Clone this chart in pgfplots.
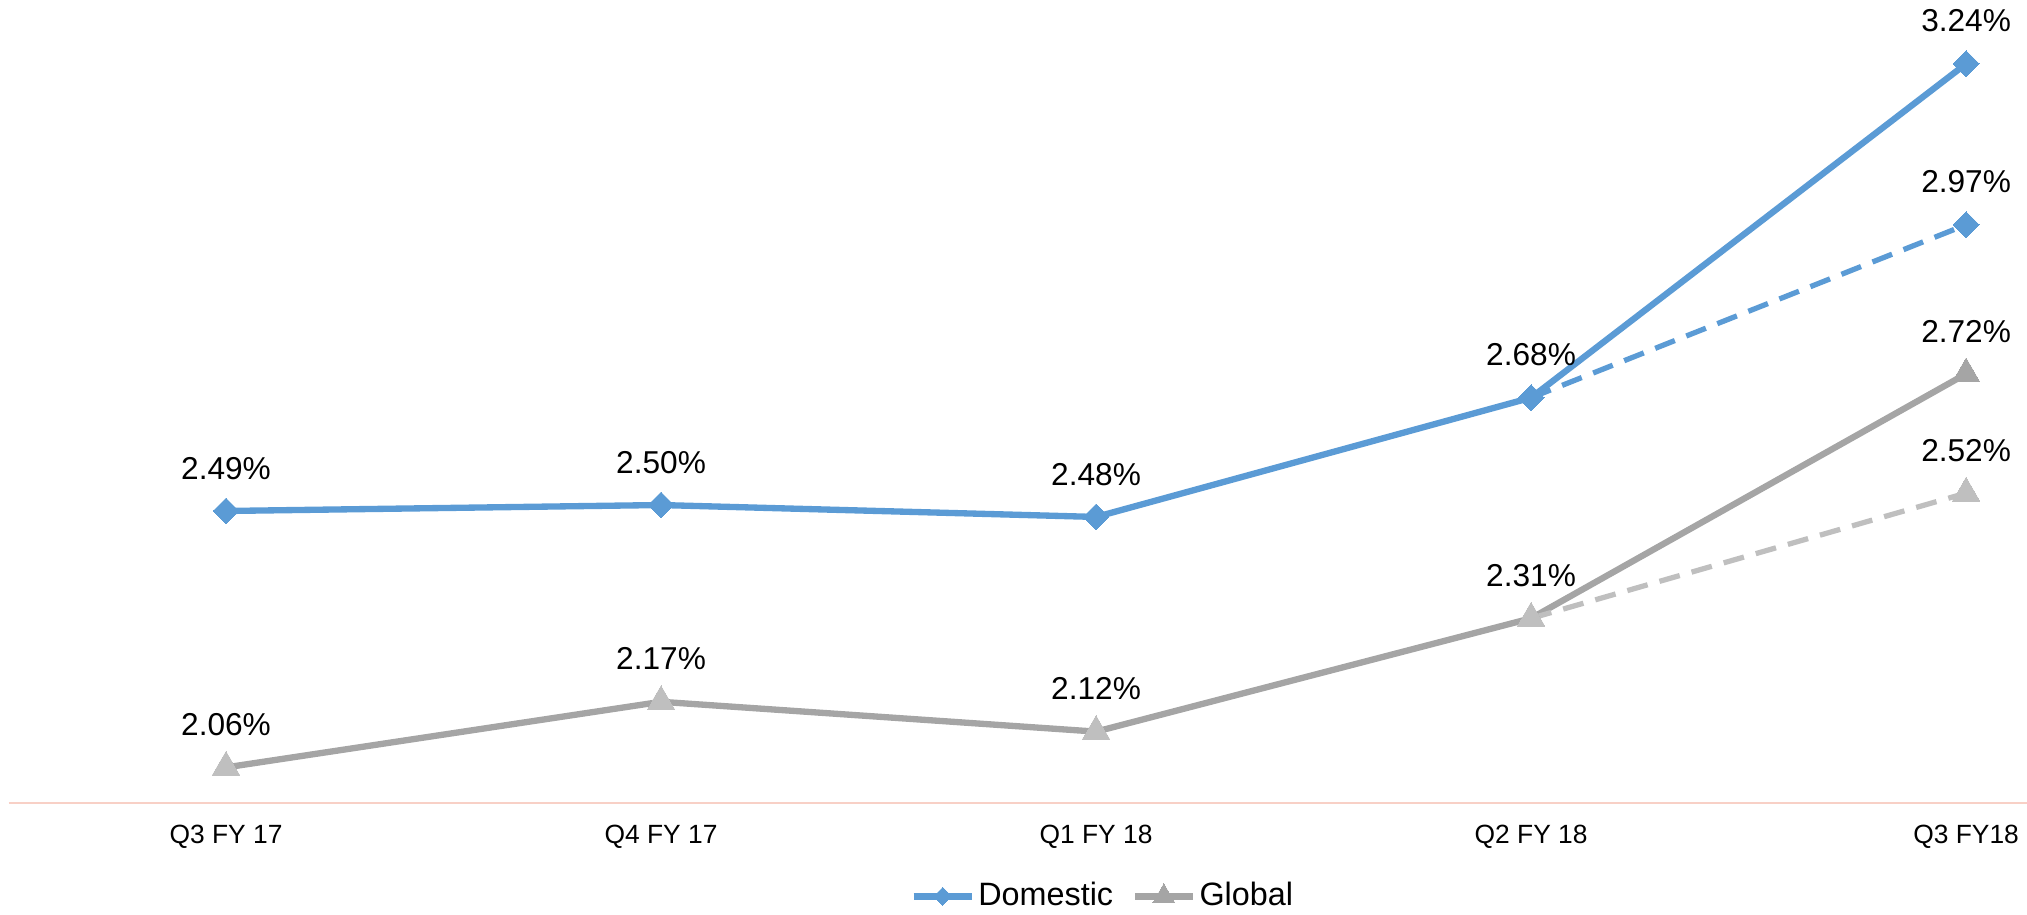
\documentclass[border=0pt]{standalone}
\usepackage{fontspec}
\setmainfont{Liberation Sans}
\usepackage{pgfplots}
\pgfplotsset{compat=1.18}
\usetikzlibrary{calc}
\definecolor{dom}{HTML}{5B9BD5}
\definecolor{glob}{HTML}{A5A5A5}
\definecolor{globlt}{HTML}{BFBFBF}
\definecolor{baseline}{HTML}{F8D0C6}

\begin{document}
\begin{tikzpicture}
\begin{axis}[
  name=ax,
  scale only axis,
  width=20.18cm, height=8.03cm,
  xmin=-0.5, xmax=4.14,
  ymin=2, ymax=3.347,
  clip=false,
  axis x line*=bottom,
  axis y line=none,
  x axis line style={draw=baseline, line width=0.6pt},
  xtick={0,1,2,3,4},
  xticklabels={Q3 FY 17, Q4 FY 17, Q1 FY 18, Q2 FY 18, Q3 FY18},
  major tick length=0pt,
  xticklabel style={font=\fontsize{7.5}{9}\selectfont, inner sep=0pt, anchor=north, yshift=-6pt},
  ytick=\empty,
  point meta=explicit symbolic,
  nodes near coords={\pgfplotspointmeta},
  nodes near coords style={font=\fontsize{9}{10}\selectfont, anchor=south, inner sep=0pt, yshift=9pt, text=black},
  legend style={draw=none, fill=none, at={(0.5425,-0.116)}, anchor=center,
    legend columns=2, font=\fontsize{9.2}{10}\selectfont,
    nodes={inner sep=1pt},
    /tikz/every even column/.append style={column sep=0.15cm}},
  legend image code/.code={\draw[mark repeat=2,mark phase=2,#1] plot coordinates {(0cm,0cm) (0.29cm,0cm) (0.58cm,0cm)};},
]
% Domestic, solid
\addplot[dom, line width=1.8pt, mark=square*, mark size=2.6pt,
  mark options={rotate=45, solid, fill=dom, draw=dom, line width=0pt},
  legend image post style={mark size=1.8pt}]
  coordinates {(0,2.49) [2.49\%] (1,2.50) [2.50\%] (2,2.48) [2.48\%] (3,2.68) [2.68\%] (4,3.24) [3.24\%]};
\addlegendentry{Domestic}
% Global, solid
\addplot[glob, line width=1.8pt, mark=triangle*, mark size=4.5pt,
  mark options={solid, fill=glob, draw=glob, line width=0pt},
  legend image post style={mark size=3.6pt}]
  coordinates {(0,2.06) [2.06\%] (1,2.17) [2.17\%] (2,2.12) [2.12\%] (3,2.31) [2.31\%] (4,2.72) [2.72\%]};
\addlegendentry{Global}
% light markers over the first four Global points
\addplot[only marks, forget plot, mark=triangle*, mark size=4.5pt,
  mark options={fill=globlt, draw=globlt, line width=0pt}, nodes near coords={}]
  coordinates {(0,2.06) [] (1,2.17) [] (2,2.12) [] (3,2.31) []};
% Domestic, dashed
\addplot[dom, forget plot, line width=1.5pt, dash pattern=on 6pt off 3.5pt,
  mark=square*, mark size=2.6pt, mark indices={2},
  mark options={rotate=45, solid, fill=dom, draw=dom, line width=0pt}]
  coordinates {(3,2.68) [] (4,2.97) [2.97\%]};
% Global, dashed
\addplot[globlt, forget plot, line width=1.5pt, dash pattern=on 6pt off 3.5pt,
  mark=triangle*, mark size=4.5pt, mark indices={2},
  mark options={solid, fill=globlt, draw=globlt, line width=0pt}]
  coordinates {(3,2.31) [] (4,2.52) [2.52\%]};
\end{axis}
\pgfresetboundingbox
\path[use as bounding box] ($(ax.south west)+(-0.085,-1.11)$) rectangle (ax.north east);
\end{tikzpicture}
\end{document}
